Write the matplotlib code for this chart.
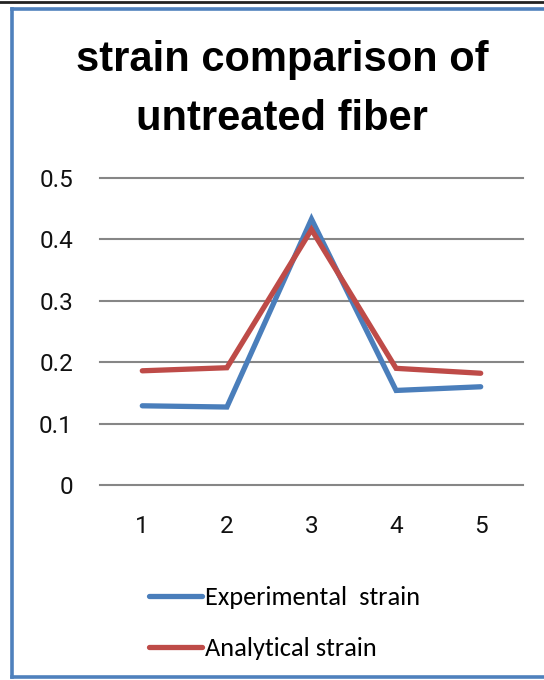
#!/usr/bin/env python3
import matplotlib
matplotlib.use("Agg")
import matplotlib.pyplot as plt
from matplotlib.lines import Line2D

samples = ["1", "2", "3", "4", "5"]
experimental = [0.129, 0.127, 0.433, 0.154, 0.160]
analytical = [0.186, 0.191, 0.416, 0.190, 0.182]
y_ticks = [0, 0.1, 0.2, 0.3, 0.4, 0.5]
title_lines = ["strain comparison of", "untreated fiber"]

BLUE = "#4A7EBB"
RED = "#BE4B48"
GRID = "#868686"
TITLE_FONT = ["Liberation Sans", "DejaVu Sans"]
TICK_FONT = ["Roboto", "DejaVu Sans"]
LEGEND_FONT = ["Carlito", "DejaVu Sans"]

W, H = 544, 680
fig = plt.figure(figsize=(W / 100, H / 100), dpi=100)

# frame: dark rule on top, blue border left/top/bottom
fig.add_artist(Line2D([0, 1], [1 - 1.5 / H, 1 - 1.5 / H], color="#222222", lw=2.0))
fig.add_artist(Line2D([12 / W, 1], [1 - 9 / H, 1 - 9 / H], color="#4F81BD", lw=2.6))
fig.add_artist(Line2D([12 / W, 12 / W], [1 - 9 / H, 3 / H], color="#4F81BD", lw=2.6))
fig.add_artist(Line2D([12 / W, 1], [3 / H, 3 / H], color="#4F81BD", lw=2.6))

ax = fig.add_axes([100 / W, 1 - 485 / H, 423 / W, 307 / H])
x = list(range(1, len(samples) + 1))
ax.plot(x, experimental, color=BLUE, lw=3.8, solid_capstyle="round", solid_joinstyle="miter",
        label="Experimental  strain", zorder=3)
ax.plot(x, analytical, color=RED, lw=3.8, solid_capstyle="round", solid_joinstyle="miter",
        label="Analytical strain", zorder=3)

ax.set_xlim(0.5, len(samples) + 0.5)
ax.set_ylim(0, 0.5)
ax.set_yticks(y_ticks, labels=[f"{t:g}" for t in y_ticks])
ax.set_xticks(x, labels=samples)
ax.yaxis.grid(True, color=GRID, lw=1.5)
for gl in ax.get_ygridlines():
    gl.set_clip_on(False)
ax.set_axisbelow(True)
for s in ax.spines.values():
    s.set_visible(False)
ax.tick_params(length=0, labelsize=17.5, colors="#111111")
ax.tick_params(axis="y", pad=19.5)
ax.tick_params(axis="x", pad=21.5)
for lbl in ax.get_xticklabels() + ax.get_yticklabels():
    lbl.set_family(TICK_FONT)

for line, base in zip(title_lines, [71, 130]):
    fig.text(282 / W, 1 - base / H, line, ha="center", va="baseline",
             fontsize=30, fontweight="bold", family=TITLE_FONT)

fig.legend(loc="upper left", bbox_to_anchor=(125 / W, 1 - 562 / H), frameon=False,
           handlelength=2.0, handletextpad=0.15, labelspacing=1.08,
           prop={"family": LEGEND_FONT, "size": 19})

fig.savefig("out.png", dpi=100)
